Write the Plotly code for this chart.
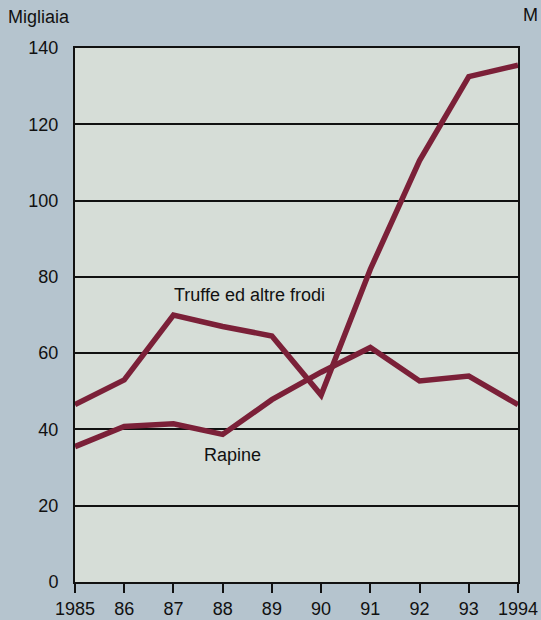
import plotly.graph_objects as go

years = [1985, 1986, 1987, 1988, 1989, 1990, 1991, 1992, 1993, 1994]
tick_labels = ["1985", "86", "87", "88", "89", "90", "91", "92", "93", "1994"]
truffe = [46.5, 53, 70, 67, 64.5, 49, 82, 110.5, 132.5, 135.5]
rapine = [35.5, 40.8, 41.5, 38.7, 47.8, 55, 61.5, 52.7, 54, 46.5]
y_ticks = [0, 20, 40, 60, 80, 100, 120, 140]

line_color = "#7b2038"
font = "Liberation Sans, Arial, sans-serif"
bg = "#b5c4ce"

fig = go.Figure()
fig.add_trace(go.Scatter(x=years, y=truffe, mode="lines",
                         line=dict(color=line_color, width=5.5), showlegend=False))
fig.add_trace(go.Scatter(x=years, y=rapine, mode="lines",
                         line=dict(color=line_color, width=5.5), showlegend=False))

fig.add_annotation(x=1988.54, y=75.2, text="Truffe ed altre frodi", showarrow=False,
                   font=dict(family=font, size=18, color="#111"), xanchor="center", yanchor="middle")
fig.add_annotation(x=1988.2, y=33.3, text="Rapine", showarrow=False,
                   font=dict(family=font, size=18, color="#111"), xanchor="center", yanchor="middle")

fig.add_annotation(xref="paper", yref="paper", x=-0.155, y=1.058, text="Migliaia",
                   showarrow=False, xanchor="left", yanchor="middle",
                   font=dict(family=font, size=18, color="#111"))
fig.add_annotation(xref="paper", yref="paper", x=1.05, y=1.062, text="M",
                   showarrow=False, xanchor="right", yanchor="middle",
                   font=dict(family=font, size=18, color="#111"))

fig.update_layout(
    autosize=False,
    width=541, height=620,
    margin=dict(l=75, r=23, t=48, b=38),
    paper_bgcolor=bg,
    plot_bgcolor="#d6ddd7",
    font=dict(family=font, size=18, color="#111"),
    xaxis=dict(range=[1985, 1994], tickvals=years, ticktext=tick_labels,
               showgrid=False, zeroline=False, showline=True, linecolor="#111",
               linewidth=2, mirror=True, ticks="outside", ticklen=9, tickwidth=2,
               tickcolor="#111", automargin=False),
    yaxis=dict(range=[0, 140], tickvals=y_ticks, showgrid=True, gridcolor="#111",
               gridwidth=1.5, zeroline=False, showline=True, linecolor="#111",
               linewidth=2, mirror=True, ticks="", ticklabelstandoff=11,
               automargin=False),
)

fig.write_html("out.html",
               config={"displayModeBar": False, "responsive": False},
               post_script="document.body.style.margin='0';document.body.style.overflow='hidden';document.body.style.background='%s';" % bg)
